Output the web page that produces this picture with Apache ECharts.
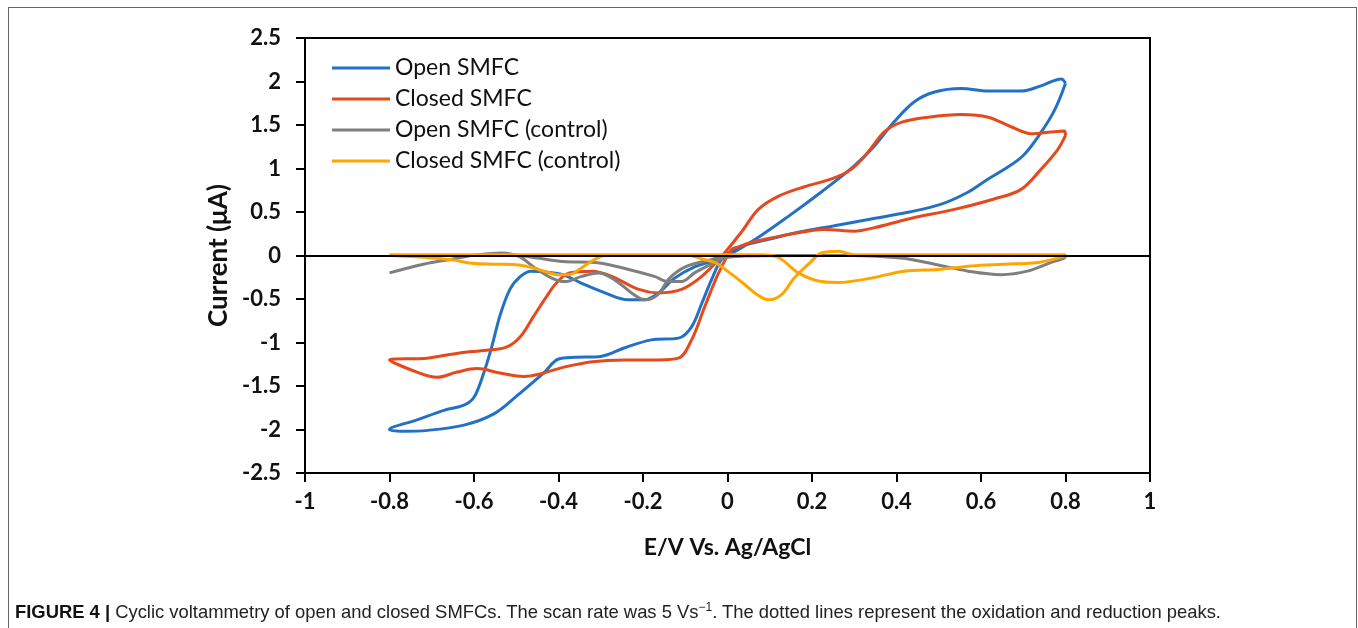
<!DOCTYPE html>
<html>
<head>
<meta charset="utf-8">
<script src="https://cdn.jsdelivr.net/npm/echarts@6/dist/echarts.min.js"></script>
<style>
  html, body { margin: 0; padding: 0; background: #fff; }
  #frame { position: absolute; left: 8px; top: 7px; width: 1349px; height: 640px;
           border: 1.5px solid #666; border-bottom: none; box-sizing: border-box; }
  #chart { position: absolute; left: 0; top: 0; width: 1358px; height: 628px; }
  #caption { position: absolute; left: 15px; top: 600px; font-family: "Liberation Sans", Arial, sans-serif;
             font-size: 18.4px; color: #222; white-space: nowrap; }
  #caption b { color: #111; }
</style>
</head>
<body>
<div id="frame"></div>
<div id="chart"></div>
<div id="caption"><b>FIGURE 4 |</b> Cyclic voltammetry of open and closed SMFCs. The scan rate was 5 Vs<sup style="font-size:12px">−1</sup>. The dotted lines represent the oxidation and reduction peaks.</div>
<script>
// names, colours
const seriesNames = ['Open SMFC', 'Closed SMFC', 'Open SMFC (control)', 'Closed SMFC (control)'];
const seriesColors = ['#2371C6', '#E5491C', '#7F7F7F', '#FFA500'];

const openE = [0.80, 0.775, 0.74, 0.70, 0.655, 0.617, 0.57, 0.506, 0.43, 0.34, 0.25, 0.17, 0.10, 0.05, 0.01,
  -0.015, -0.038, -0.06, -0.085, -0.116, -0.18, -0.243, -0.30, -0.36, -0.40, -0.435, -0.50, -0.553, -0.624, -0.71, -0.765, -0.80,
  -0.735, -0.671, -0.624, -0.60, -0.577, -0.558, -0.539, -0.515, -0.49, -0.465, -0.43, -0.39, -0.345, -0.29, -0.234, -0.196, -0.163, -0.125, -0.078, -0.038, 0.0,
  0.064, 0.144, 0.222, 0.30, 0.348, 0.395, 0.443, 0.49, 0.553, 0.617, 0.695, 0.742, 0.79, 0.80];
const openI = [1.98, 1.68, 1.40, 1.15, 0.99, 0.88, 0.73, 0.59, 0.50, 0.42, 0.34, 0.27, 0.19, 0.13, 0.05,
  -0.05, -0.28, -0.54, -0.82, -0.95, -0.97, -1.06, -1.16, -1.17, -1.19, -1.35, -1.62, -1.82, -1.95, -2.01, -2.02, -2.0,
  -1.89, -1.78, -1.72, -1.63, -1.35, -1.05, -0.70, -0.39, -0.24, -0.18, -0.19, -0.22, -0.32, -0.43, -0.51, -0.51, -0.43, -0.26, -0.13, -0.07, 0.0,
  0.18, 0.45, 0.73, 1.03, 1.26, 1.54, 1.77, 1.88, 1.92, 1.89, 1.89, 1.95, 2.03, 1.98];

const closedE = [0.80, 0.782, 0.742, 0.695, 0.631, 0.537, 0.428, 0.348, 0.30, 0.23, 0.144, 0.064, 0.026, 0.01,
  -0.021, -0.054, -0.085, -0.116, -0.163, -0.243, -0.32, -0.385, -0.435, -0.482, -0.539, -0.593, -0.64, -0.688, -0.735, -0.80,
  -0.711, -0.634, -0.57, -0.522, -0.49, -0.459, -0.428, -0.404, -0.374, -0.32, -0.274, -0.21, -0.163, -0.109, -0.061, -0.014,
  0.033, 0.073, 0.12, 0.182, 0.246, 0.293, 0.333, 0.371, 0.411, 0.475, 0.553, 0.617, 0.671, 0.719, 0.766, 0.797, 0.80];
const closedI = [1.38, 1.22, 0.99, 0.76, 0.65, 0.53, 0.42, 0.32, 0.28, 0.30, 0.24, 0.16, 0.10, 0.07,
  -0.20, -0.59, -0.97, -1.18, -1.20, -1.20, -1.22, -1.28, -1.35, -1.39, -1.35, -1.30, -1.34, -1.40, -1.34, -1.20,
  -1.18, -1.12, -1.09, -1.05, -0.93, -0.70, -0.47, -0.31, -0.20, -0.18, -0.24, -0.39, -0.43, -0.39, -0.24, -0.01,
  0.27, 0.53, 0.68, 0.79, 0.88, 0.99, 1.19, 1.42, 1.53, 1.59, 1.62, 1.59, 1.48, 1.40, 1.42, 1.43, 1.38];

const openCtrlE = [-0.80, -0.72, -0.65, -0.589, -0.534, -0.494, -0.456, -0.416, -0.385, -0.345, -0.305, -0.267, -0.227, -0.195, -0.165, -0.137, -0.10, -0.05, 0.0,
  0.2, 0.4, 0.6, 0.8, 0.797, 0.766, 0.71, 0.648, 0.57, 0.49, 0.41, 0.30, 0.1, 0.0,
  -0.038, -0.078, -0.109, -0.14, -0.173, -0.234, -0.314, -0.39, -0.45, -0.5, -0.65, -0.8];
const openCtrlI = [-0.20, -0.10, -0.04, 0.01, 0.03, -0.01, -0.14, -0.26, -0.30, -0.24, -0.20, -0.28, -0.43, -0.51, -0.45, -0.26, -0.13, -0.06, -0.01,
  0.0, 0.0, 0.0, 0.0, -0.03, -0.08, -0.18, -0.22, -0.18, -0.10, -0.03, 0.0, 0.0, -0.02,
  -0.10, -0.20, -0.30, -0.30, -0.24, -0.16, -0.08, -0.07, -0.03, 0.0, 0.0, 0.0];

const closedCtrlE = [-0.80, -0.72, -0.652, -0.605, -0.55, -0.494, -0.447, -0.40, -0.376, -0.345, -0.32, -0.29, -0.2, -0.1, -0.06, -0.03, 0.0, 0.04, 0.07, 0.097, 0.128, 0.158, 0.198, 0.222, 0.262, 0.30, 0.5, 0.8,
  0.797, 0.735, 0.655, 0.577, 0.498, 0.418, 0.34, 0.262, 0.222, 0.168, 0.12, 0.08, 0.0, -0.4, -0.8];
const closedCtrlI = [0.0, -0.02, -0.05, -0.09, -0.10, -0.11, -0.16, -0.22, -0.22, -0.14, -0.06, 0.0, 0.01, 0.01, -0.04, -0.08, -0.18, -0.33, -0.45, -0.51, -0.45, -0.26, -0.07, 0.03, 0.05, 0.01, 0.01, 0.01,
  -0.01, -0.08, -0.10, -0.12, -0.16, -0.18, -0.26, -0.31, -0.30, -0.20, -0.02, 0.01, 0.01, 0.01, 0.01];

const xs = [openE, closedE, openCtrlE, closedCtrlE];
const ys = [openI, closedI, openCtrlI, closedCtrlI];

const chart = echarts.init(document.getElementById('chart'));
const labelFont = { fontFamily: 'Lato', fontWeight: 'bold', fontSize: 22, color: '#111' };

chart.setOption({
  animation: false,
  grid: { left: 305, right: 208, top: 38, bottom: 155, show: true, borderColor: '#000', borderWidth: 2 },
  legend: {
    data: seriesNames, orient: 'vertical', left: 332, top: 56, padding: 0,
    icon: 'rect', itemWidth: 58, itemHeight: 3, itemGap: 7,
    textStyle: { fontFamily: 'Lato', fontSize: 23, lineHeight: 24, color: '#111' }
  },
  xAxis: [{
    type: 'value', min: -1, max: 1, interval: 0.2, position: 'bottom',
    name: 'E/V Vs. Ag/AgCl', nameLocation: 'middle', nameGap: 63,
    nameTextStyle: { fontFamily: 'Lato', fontWeight: 'bold', fontSize: 23, color: '#111' },
    axisLine: { onZero: false, lineStyle: { color: '#000', width: 2 } },
    axisTick: { inside: false, length: 9, lineStyle: { color: '#000', width: 2 } },
    axisLabel: Object.assign({ margin: 18 }, labelFont),
    splitLine: { show: false }
  }, {
    // black zero line drawn over the curves
    type: 'value', min: -1, max: 1, z: 5,
    axisLine: { onZero: true, lineStyle: { color: '#000', width: 2 } },
    axisTick: { show: false }, axisLabel: { show: false }, splitLine: { show: false }
  }],
  yAxis: {
    type: 'value', min: -2.5, max: 2.5, interval: 0.5,
    name: 'Current (μA)', nameLocation: 'middle', nameGap: 73,
    nameTextStyle: { fontFamily: 'Lato', fontWeight: 'bold', fontSize: 26, color: '#111' },
    axisLine: { show: true, onZero: false, lineStyle: { color: '#000', width: 2 } },
    axisTick: { show: true, inside: false, length: 9, lineStyle: { color: '#000', width: 2 } },
    axisLabel: Object.assign({ margin: 24 }, labelFont),
    splitLine: { show: false }
  },
  series: seriesNames.map((name, i) => ({
    name: name, type: 'line', xAxisIndex: 0,
    data: xs[i].map((x, j) => [x, ys[i][j]]),
    smooth: 0.35, symbol: 'none',
    lineStyle: { color: seriesColors[i], width: 3 },
    itemStyle: { color: seriesColors[i] }
  }))
});
</script>
</body>
</html>
